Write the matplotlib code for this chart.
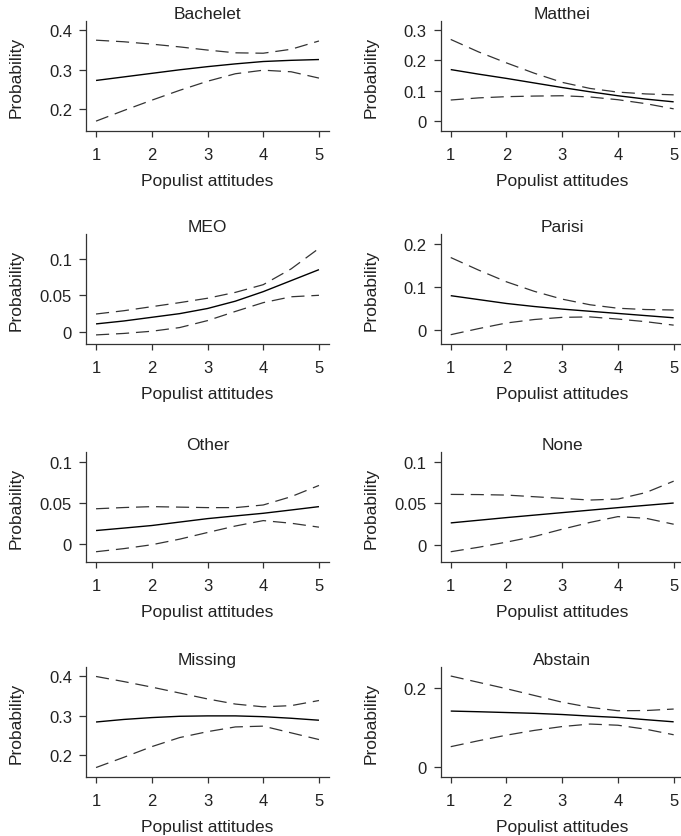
import matplotlib
matplotlib.use("Agg")
import matplotlib.pyplot as plt

plt.rcParams['font.family'] = ['Liberation Sans', 'DejaVu Sans']

# ---- data ----
x_vals = [1, 1.5, 2, 2.5, 3, 3.5, 4, 4.5, 5]
titles = ["Bachelet", "Matthei", "MEO", "Parisi", "Other", "None", "Missing", "Abstain"]

bachelet_mean = [0.273, 0.282, 0.291, 0.300, 0.308, 0.315, 0.321, 0.324, 0.326]
bachelet_hi   = [0.375, 0.371, 0.365, 0.358, 0.350, 0.343, 0.342, 0.352, 0.373]
bachelet_lo   = [0.170, 0.197, 0.223, 0.248, 0.271, 0.290, 0.299, 0.295, 0.279]

matthei_mean = [0.170, 0.155, 0.141, 0.126, 0.111, 0.097, 0.084, 0.073, 0.064]
matthei_hi   = [0.269, 0.228, 0.192, 0.158, 0.128, 0.108, 0.096, 0.090, 0.087]
matthei_lo   = [0.070, 0.077, 0.081, 0.083, 0.084, 0.080, 0.071, 0.058, 0.041]

meo_mean = [0.011, 0.015, 0.020, 0.025, 0.032, 0.042, 0.055, 0.070, 0.085]
meo_hi   = [0.0245, 0.029, 0.0345, 0.040, 0.046, 0.054, 0.0645, 0.086, 0.114]
meo_lo   = [-0.004, -0.002, 0.001, 0.006, 0.0155, 0.028, 0.040, 0.048, 0.050]

parisi_mean = [0.080, 0.071, 0.062, 0.055, 0.049, 0.044, 0.039, 0.034, 0.029]
parisi_hi   = [0.168, 0.139, 0.112, 0.090, 0.072, 0.059, 0.051, 0.048, 0.047]
parisi_lo   = [-0.010, 0.004, 0.017, 0.025, 0.030, 0.031, 0.026, 0.020, 0.012]

other_mean = [0.0165, 0.0195, 0.0226, 0.0268, 0.031, 0.0343, 0.0375, 0.0415, 0.0456]
other_hi   = [0.043, 0.0445, 0.0456, 0.045, 0.0444, 0.0444, 0.0476, 0.0577, 0.0714]
other_lo   = [-0.0093, -0.0055, -0.0008, 0.006, 0.0141, 0.022, 0.0286, 0.0254, 0.0206]

none_mean = [0.0264, 0.0296, 0.0328, 0.0358, 0.0388, 0.0418, 0.0448, 0.0476, 0.0504]
none_hi   = [0.0608, 0.0606, 0.060, 0.058, 0.056, 0.054, 0.0552, 0.063, 0.0768]
none_lo   = [-0.0084, -0.003, 0.0032, 0.010, 0.0188, 0.027, 0.034, 0.032, 0.0248]

missing_mean = [0.2845, 0.291, 0.2957, 0.299, 0.300, 0.300, 0.298, 0.294, 0.289]
missing_hi   = [0.400, 0.387, 0.373, 0.358, 0.343, 0.330, 0.323, 0.326, 0.339]
missing_lo   = [0.169, 0.195, 0.222, 0.245, 0.260, 0.272, 0.274, 0.257, 0.240]

abstain_mean = [0.1407, 0.139, 0.137, 0.135, 0.132, 0.128, 0.1246, 0.119, 0.1136]
abstain_hi   = [0.229, 0.213, 0.197, 0.180, 0.163, 0.150, 0.1415, 0.142, 0.1458]
abstain_lo   = [0.051, 0.066, 0.080, 0.092, 0.1017, 0.108, 0.105, 0.095, 0.081]

series = [
    (bachelet_mean, bachelet_hi, bachelet_lo),
    (matthei_mean, matthei_hi, matthei_lo),
    (meo_mean, meo_hi, meo_lo),
    (parisi_mean, parisi_hi, parisi_lo),
    (other_mean, other_hi, other_lo),
    (none_mean, none_hi, none_lo),
    (missing_mean, missing_hi, missing_lo),
    (abstain_mean, abstain_hi, abstain_lo),
]

y_ticks = [
    [0.2, 0.3, 0.4], [0, 0.1, 0.2, 0.3], [0, 0.05, 0.1], [0, 0.1, 0.2],
    [0, 0.05, 0.1], [0, 0.05, 0.1], [0.2, 0.3, 0.4], [0, 0.2],
]
y_ticklabels = [
    ["0.2", "0.3", "0.4"], ["0", "0.1", "0.2", "0.3"], ["0", "0.05", "0.1"], ["0", "0.1", "0.2"],
    ["0", "0.05", "0.1"], ["0", "0.05", "0.1"], ["0.2", "0.3", "0.4"], ["0", "0.2"],
]
y_lims = [
    (0.145, 0.4236), (-0.0318, 0.3296), (-0.0164, 0.1336), (-0.0315, 0.2223),
    (-0.0218, 0.1121), (-0.0208, 0.112), (0.145, 0.424), (-0.0254, 0.2517),
]
x_ticks = [1, 2, 3, 4, 5]

# ---- layout ----
W, H = 681, 837
fig = plt.figure(figsize=(W / 100, H / 100), dpi=100)
fig.patch.set_facecolor("white")

lefts_px = [86, 440.7]
tops_px = [22, 235, 453, 668]
ax_w_px, ax_h_px = 243, 110
text_color = "#222222"
fs_tick = 12
fs_lab = 12.5

for i, title in enumerate(titles):
    r, c = divmod(i, 2)
    left = lefts_px[c] / W
    bottom = 1 - (tops_px[r] + ax_h_px) / H
    ax = fig.add_axes([left, bottom, ax_w_px / W, ax_h_px / H])
    m, hi, lo = series[i]
    ax.plot(x_vals, m, color="black", lw=1.0, solid_capstyle="butt")
    ax.plot(x_vals, hi, color="#333333", lw=0.9, dashes=(10.5, 5.5))
    ax.plot(x_vals, lo, color="#333333", lw=0.9, dashes=(10.5, 5.5))
    ax.set_xlim(0.82, 5.18)
    ax.set_ylim(*y_lims[i])
    ax.set_xticks(x_ticks)
    ax.set_xticklabels([str(t) for t in x_ticks])
    ax.set_yticks(y_ticks[i])
    ax.set_yticklabels(y_ticklabels[i])
    for s in ["top", "right"]:
        ax.spines[s].set_visible(False)
    for s in ["left", "bottom"]:
        ax.spines[s].set_linewidth(0.9)
        ax.spines[s].set_color("#333333")
    ax.tick_params(axis="x", direction="out", length=4.5, width=0.9, color="#333333",
                   labelsize=fs_tick, labelcolor=text_color, pad=7)
    ax.tick_params(axis="y", direction="out", length=5, width=0.9, color="#333333",
                   labelsize=fs_tick, labelcolor=text_color, pad=5)
    ax.set_title(title, fontsize=fs_lab, color=text_color, pad=0)
    ax.set_xlabel("Populist attitudes", fontsize=fs_lab, color=text_color, labelpad=8)
    ax.set_ylabel("Probability", fontsize=fs_lab, color=text_color)
    ax.yaxis.set_label_coords(-62 / ax_w_px, 0.5)
    ax.patch.set_alpha(0)

fig.savefig("out.png", dpi=100, facecolor="white")
